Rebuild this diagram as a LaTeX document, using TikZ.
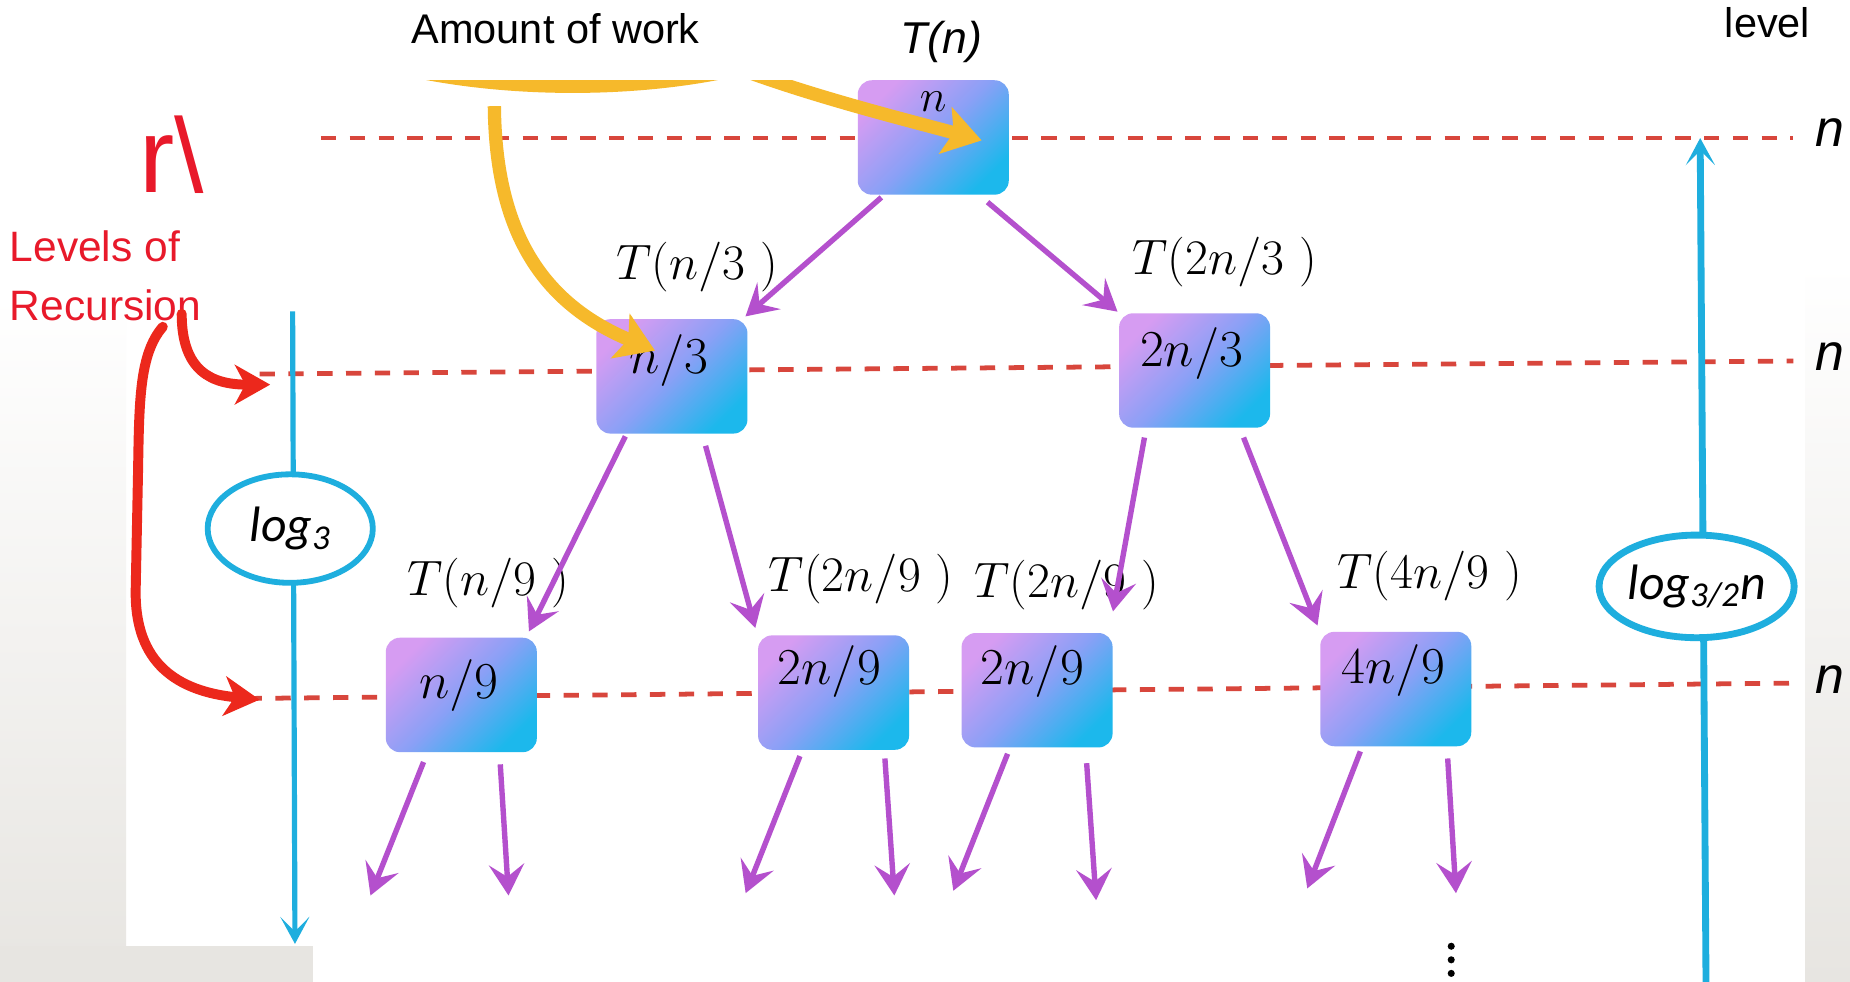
\RequirePackage{fix-cm}
\documentclass[tikz,border=0pt]{standalone}
\usepackage[no-math]{fontspec}
\newfontfamily\arialfont{Liberation Sans}
\newfontfamily\carlito{Carlito}
\usetikzlibrary{arrows.meta,shapes.geometric,calc}

\definecolor{dashred}{RGB}{216,70,60}
\definecolor{arrowpurple}{RGB}{180,80,205}
\definecolor{cyanline}{RGB}{30,174,222}
\definecolor{workyellow}{RGB}{246,185,43}
\definecolor{handred}{RGB}{236,40,28}
\definecolor{labelred}{RGB}{232,25,42}
\definecolor{boxpink}{RGB}{214,156,242}
\definecolor{boxmid}{RGB}{138,160,246}
\definecolor{boxcyan}{RGB}{28,184,236}
\definecolor{panelgray}{RGB}{231,229,225}

\tikzset{
  subbox/.style={rectangle, rounded corners=6.8pt, minimum width=2.56cm,
    minimum height=1.94cm, inner sep=0pt, top color=boxpink,
    bottom color=boxcyan, middle color=boxmid, shading angle=45},
  boxlabel/.style={font=\fontsize{25}{30}\selectfont, inner sep=0pt},
  costlabel/.style={font=\fontsize{24}{29}\selectfont, inner sep=0pt},
  recarrow/.style={arrowpurple, line width=2.6pt,
    -{Stealth[length=15pt,width=17pt,inset=6pt]}},
  leveldash/.style={dashred, line width=2.3pt, dash pattern=on 7.4pt off 6.5pt},
  depthline/.style={cyanline, -{Stealth[length=13pt,width=14pt,inset=7pt]}},
  depthoval/.style={ellipse, draw=cyanline, fill=white, inner sep=0pt,
    font=\carlito\itshape\fontsize{24}{28}\selectfont},
  workarrow/.style={workyellow, line width=6.4pt,
    -{Stealth[length=18pt,width=23pt,inset=4pt]}},
  handarrow/.style={handred, line width=4.8pt, line cap=round,
    -{Stealth[length=17pt,width=19pt,inset=5pt]}},
  redtext/.style={labelred, inner sep=0pt, font=\arialfont\fontsize{20.5}{24}\selectfont},
  blacktext/.style={black, inner sep=0pt, font=\arialfont\fontsize{20}{24}\selectfont},
  sumlabel/.style={inner sep=0pt, font=\arialfont\itshape\fontsize{25}{30}\selectfont}
}

\begin{document}
\begin{tikzpicture}[x=0.02cm, y=-0.02cm]
\useasboundingbox (0,0) rectangle (1568,832);

% backdrop panels
\fill[white] (0,0) rectangle (1568,832);
\fill[top color=white, bottom color=panelgray] (0,250) rectangle (107,832);
\fill[top color=white, bottom color=panelgray] (1530,223) rectangle (1568,832);
\fill[panelgray] (0,802) rectangle (265,832);

% level lines
\coordinate (d1a) at (272,117);  \coordinate (d1b) at (1520,117);
\coordinate (d2a) at (220,317);  \coordinate (d2b) at (1520,306);
\coordinate (d3a) at (209,592);  \coordinate (d3b) at (1520,579);
\draw[leveldash] (d1a) -- (d1b);
\draw[leveldash] (d2a) -- (d2b);
\draw[leveldash] (d3a) -- (d3b);

% depth axes
\coordinate (ltop) at (248,264);  \coordinate (lbot) at (250,800);
\coordinate (rbot) at (1446,840); \coordinate (rtop) at (1441,117);
\draw[depthline, line width=2.5pt] (ltop) -- (lbot);
\draw[depthline, line width=3.3pt] (rbot) -- (rtop);
\node[depthoval, line width=2.8pt, minimum width=2.8cm, minimum height=1.84cm]
  (lgthree) at (246,448) {log\textsubscript{3}};
\node[depthoval, line width=3.3pt, minimum width=2.78cm, minimum height=1.74cm]
  (lgthreehalf) at (1438,497) {log\textsubscript{3/2}n};

% recursion tree boxes
\node[subbox] (b0) at (791,116.5) {};
\node[subbox] (b1) at (569.5,319) {};
\node[subbox] (b2) at (1012.5,314) {};
\node[subbox] (b3) at (391,589) {};
\node[subbox] (b4) at (706.5,587) {};
\node[subbox] (b5) at (879,585) {};
\node[subbox] (b6) at (1183,584) {};

\node[boxlabel, font=\fontsize{22}{26}\selectfont] (t0) at (791,86) {$n$};
\node[boxlabel] (t1) at (567,306) {$n/3$};
\node[boxlabel] (t2) at (1010,300) {$2n/3$};
\node[boxlabel] (t3) at (389,581) {$n/9$};
\node[boxlabel] (t4) at (703,569) {$2n/9$};
\node[boxlabel] (t5) at (875,569) {$2n/9$};
\node[boxlabel] (t6) at (1181,568) {$4n/9$};

% cost of each subproblem
\node[costlabel] (c1) at (591,226) {$T(n/3\ )$};
\node[costlabel] (c2) at (1038,222) {$T(2n/3\ )$};
\node[costlabel] (c3) at (414,494) {$T(n/9\ )$};
\node[costlabel] (c4) at (730,491) {$T(2n/9\ )$};
\node[costlabel] (c5) at (904,496) {$T(2n/9\ )$};
\node[costlabel] (c6) at (1212,488) {$T(4n/9\ )$};

% recursive calls
\draw[recarrow] ($(b0.south)+(-44,2)$) -- ($(b1.north east)+(-2,-2)$);
\draw[recarrow] ($(b0.south)+(46,6)$) -- ($(b2.north west)+(-1,-1)$);
\draw[recarrow] ($(b1.south)+(-39.5,2)$) -- ($(b3.north east)+(-7,-5)$);
\draw[recarrow] ($(b1.south)+(28.5,10)$) -- ($(b4.north west)+(-2,-6)$);
\draw[recarrow] ($(b2.south)+(-42.5,8)$) -- ($(b5.north east)+(0,-18)$);
\draw[recarrow] ($(b2.south)+(41.5,8)$) -- ($(b6.north west)+(-2,-5)$);

\coordinate (e3l) at (314,759);  \coordinate (e3r) at (431,759);
\coordinate (e4l) at (632,757);  \coordinate (e4r) at (758,759);
\coordinate (e5l) at (808,755);  \coordinate (e5r) at (929,763);
\coordinate (e6l) at (1108,753); \coordinate (e6r) at (1234,757);
\draw[recarrow] ($(b3.south)+(-32,8)$) -- (e3l);
\draw[recarrow] ($(b3.south)+(33,10)$) -- (e3r);
\draw[recarrow] ($(b4.south)+(-28.5,5)$) -- (e4l);
\draw[recarrow] ($(b4.south)+(43.5,7)$) -- (e4r);
\draw[recarrow] ($(b5.south)+(-25,5)$) -- (e5l);
\draw[recarrow] ($(b5.south)+(42,13)$) -- (e5r);
\draw[recarrow] ($(b6.south)+(-30,4)$) -- (e6l);
\draw[recarrow] ($(b6.south)+(44,10)$) -- (e6r);

% continuation dots
\fill (1230,802) circle (3);
\fill (1230,813.5) circle (3);
\fill (1230,825) circle (3);

% work highlights
\begin{scope}
  \clip (0,68) rectangle (1568,832);
  \draw[workyellow, line width=6.4pt] (305,48) .. controls (410,82) and (570,82) .. (672,45);
  \coordinate (w1) at (610,52);
  \draw[workarrow] (w1) .. controls (680,80) and (770,102) .. ($(b0.center)+(41,2.5)$);
  \coordinate (w2) at (419,90);
  \draw[workarrow] (w2) .. controls (420,200) and (462,258) .. ($(b1.north west)+(50,27)$);
\end{scope}

% levels annotation
\node[redtext, anchor=base west, font=\arialfont\fontsize{51}{56}\selectfont] (rmark) at (118,163) {r\textbackslash};
\node[redtext, anchor=base west] (lvla) at (8,222) {Levels of};
\node[redtext, anchor=base west] (lvlb) at (8,272) {Recursion};
\draw[handarrow] (154,266) .. controls (154,315) and (180,326) .. ($(d2a)+(9,9)$);
\draw[handarrow] (138,277) .. controls (118,300) and (118,340) .. (117,400)
  -- (115,500) .. controls (114,562) and (150,586) .. ($(d3a)+(11,1)$);

% headings and per-level sums
\node[blacktext, anchor=base] (work) at (471,37) {Amount of work};
\node[blacktext, anchor=base, font=\arialfont\itshape\fontsize{21.5}{25}\selectfont] (tn) at (798,45) {T(n)};
\node[blacktext, anchor=base] (lvl) at (1498,32) {level};
\node[sumlabel] (s1) at (1551,112) {n};
\node[sumlabel] (s2) at (1551,302) {n};
\node[sumlabel] (s3) at (1551,576) {n};
\end{tikzpicture}
\end{document}
